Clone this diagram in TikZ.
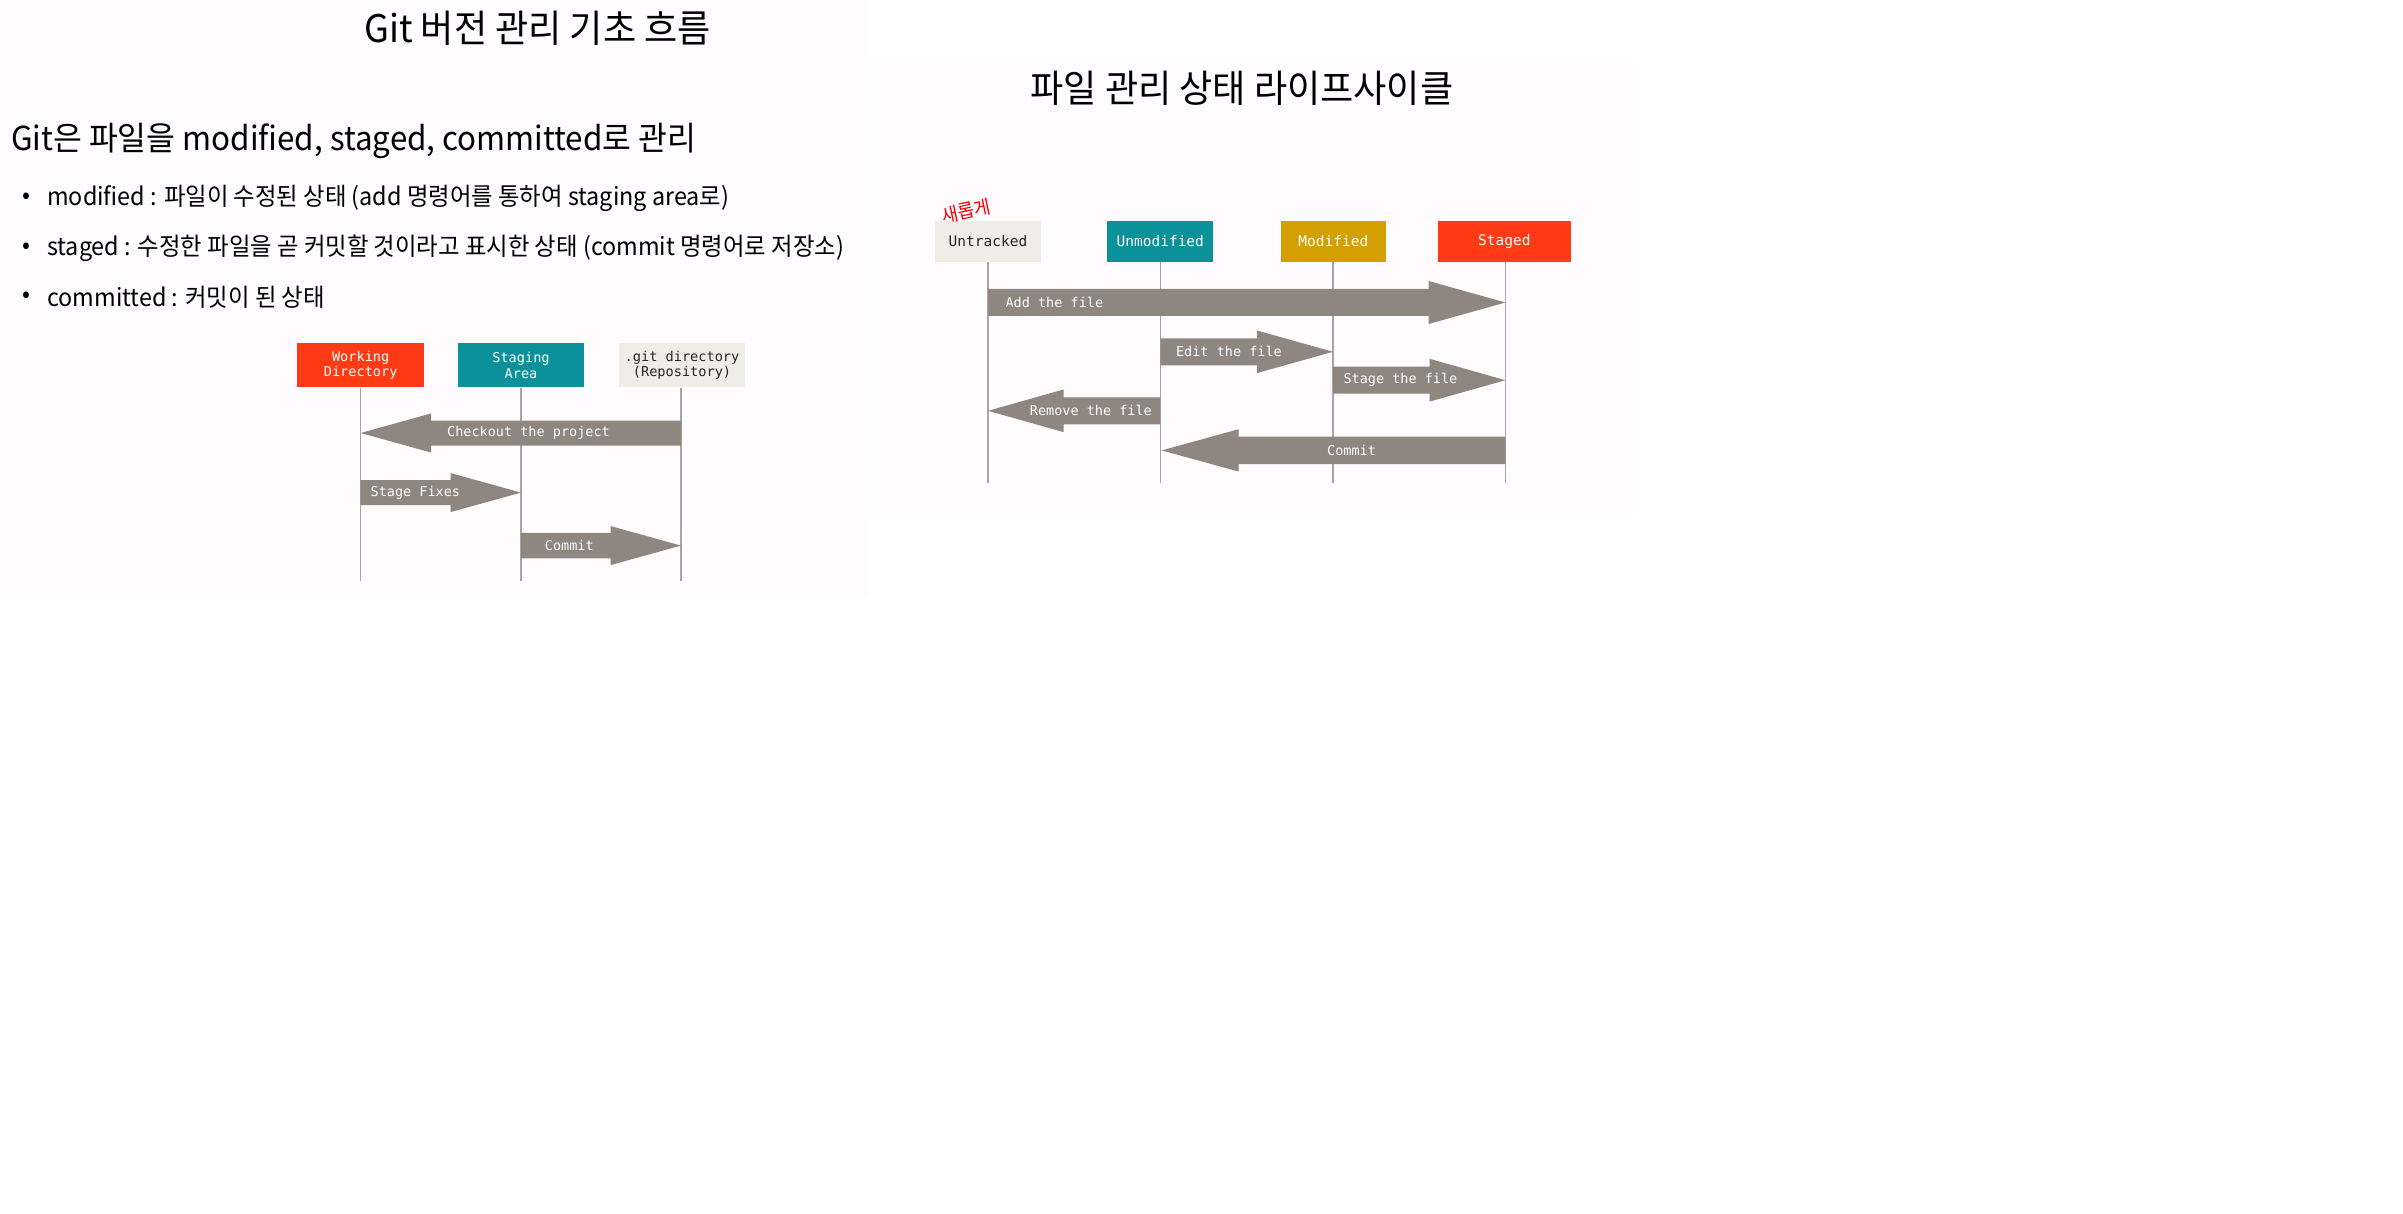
\documentclass[tikz,border=0pt]{standalone}
\usepackage{fontspec}
\setmainfont{Noto Sans CJK KR}
\newfontfamily\krfont[FakeStretch=0.95]{Noto Sans CJK KR}
\newfontfamily\codefont{DejaVu Sans Mono}
\definecolor{panelbg}{RGB}{254,252,254}
\definecolor{gitred}{RGB}{255,58,20}
\definecolor{gitteal}{RGB}{10,145,153}
\definecolor{gitgold}{RGB}{212,159,0}
\definecolor{gitpale}{RGB}{238,237,230}
\definecolor{arrowgray}{RGB}{143,135,127}
\definecolor{lifegray}{RGB}{168,164,159}
\newcommand\fatarr[6]{\fill[arrowfill] ({#1},{#4-#5}) -- ({#3},{#4-#5}) -- ({#3},{#4-#6}) -- ({#2},{#4}) -- ({#3},{#4+#6}) -- ({#3},{#4+#5}) -- ({#1},{#4+#5}) -- cycle;}
\begin{document}
\begin{tikzpicture}[x=1pt,y=-1pt,
  titletext/.style={font=\krfont\fontsize{38}{44}\selectfont, inner sep=0, text=black},
  subtext/.style={font=\krfont\fontsize{33}{38}\selectfont, inner sep=0, text=black},
  bullettext/.style={font=\krfont\fontsize{24.6}{29}\selectfont, inner sep=0, text=black},
  statebox/.style={inner sep=0, align=center, font=\codefont\fontsize{13.6}{15.6}\selectfont},
  rstatebox/.style={statebox, font=\codefont\fontsize{14.5}{16}\selectfont, minimum height=40.7},
  arrowfill/.style={fill=arrowgray},
  arrowlabel/.style={inner sep=0, text=white, font=\codefont\fontsize{13.5}{16}\selectfont},
  lifeline/.style={draw=lifegray, line width=1.4pt}]
\useasboundingbox (0,0) rectangle (2403,1214);
\fill[white] (0,0) rectangle (2403,1214);
\fill[panelbg] (0,0) rectangle (868,597);
\fill[panelbg] (875,58) rectangle (1630,518);

% titles and text
\node[titletext] (t1) at (537.6,28) {Git 버전 관리 기초 흐름};
\node[titletext] (t2) at (1242,88) {파일 관리 상태 라이프사이클};
\node[subtext, anchor=west] (s1) at (11,141) {Git은 파일을 modified, staged, committed로 관리};
\node[bullettext] (d1) at (26,198) {•};
\node[bullettext] (d2) at (26,248) {•};
\node[bullettext] (d3) at (26,297) {•};
\node[bullettext, anchor=west] (b1) at (47,198) {modified : 파일이 수정된 상태 (add 명령어를 통하여 staging area로)};
\node[bullettext, anchor=west] (b2) at (47,248) {staged : 수정한 파일을 곧 커밋할 것이라고 표시한 상태 (commit 명령어로 저장소)};
\node[bullettext, anchor=west] (b3) at (47,297) {committed : 커밋이 된 상태};

% left diagram
\node[statebox, fill=gitred, text=white, minimum width=126.6, minimum height=44] (wd) at (360.7,365.3) {Working\\Directory};
\node[statebox, fill=gitteal, text=white, minimum width=126, minimum height=44] (sa) at (521,365.3) {Staging\\Area};
\node[statebox, fill=gitpale, text=black!85, minimum width=126.4, minimum height=44] (gd) at (682,365.3) {.git directory\\(Repository)};
\coordinate (wdend) at (360.7,580.7);
\coordinate (saend) at (521,580.7);
\coordinate (gdend) at (681,580.7);
\draw[lifeline] (wd.south) -- (wdend);
\draw[lifeline] (sa.south) -- (saend);
\draw[lifeline] (gd.south -| gdend) -- (gdend);
\fatarr{681}{360.7}{431.2}{433}{12.5}{19.6}
\fatarr{360.7}{521}{450.6}{492.6}{12.5}{19.5}
\fatarr{521}{681}{610.6}{545.6}{12.8}{19.5}
\node[arrowlabel] (l1) at (528.5,432.8) {Checkout the project};
\node[arrowlabel, anchor=west] (l2) at (370.5,492.6) {Stage Fixes};
\node[arrowlabel] (l3) at (569.3,545.6) {Commit};

% right diagram
\node[rstatebox, fill=gitpale, text=black!85, minimum width=105.4] (ut) at (988,241.4) {Untracked};
\node[rstatebox, fill=gitteal, text=white, minimum width=106.3] (um) at (1160.3,241.4) {Unmodified};
\node[rstatebox, fill=gitgold, text=white, minimum width=105.8] (md) at (1333.4,241.4) {Modified};
\node[rstatebox, fill=gitred, text=white, minimum width=132.3] (st) at (1504.4,241.4) {Staged};
\coordinate (utend) at (988,483.3);
\coordinate (umend) at (1160.3,483.3);
\coordinate (mdend) at (1333,483.3);
\coordinate (stend) at (1505.4,483.3);
\draw[lifeline] (ut.south) -- (utend);
\draw[lifeline] (um.south) -- (umend);
\draw[lifeline] (md.south -| mdend) -- (mdend);
\draw[lifeline] (st.south -| stend) -- (stend);
\fatarr{988}{1505.4}{1428.6}{302.5}{13.5}{21.5}
\fatarr{1160.3}{1333}{1257}{351.8}{13.5}{21.3}
\fatarr{1333}{1505.4}{1429.6}{380.2}{13.5}{21.4}
\fatarr{1160.3}{988}{1063.5}{410.8}{13.5}{21.3}
\fatarr{1505.4}{1161.6}{1238.7}{450.4}{13.7}{21.2}
\node[arrowlabel, anchor=west] (a1) at (1005.4,302.5) {Add the file};
\node[arrowlabel, anchor=west] (a2) at (1175.9,351.8) {Edit the file};
\node[arrowlabel, anchor=west] (a3) at (1343.3,380.2) {Stage the file};
\node[arrowlabel, anchor=east] (a4) at (1152,410.8) {Remove the file};
\node[arrowlabel] (a5) at (1351.5,450.4) {Commit};

% handwritten note
\node[inner sep=0, text=red, rotate=12, font=\krfont\fontsize{19}{22}\selectfont] (note) at (966,211) {새롭게};
\end{tikzpicture}
\end{document}
